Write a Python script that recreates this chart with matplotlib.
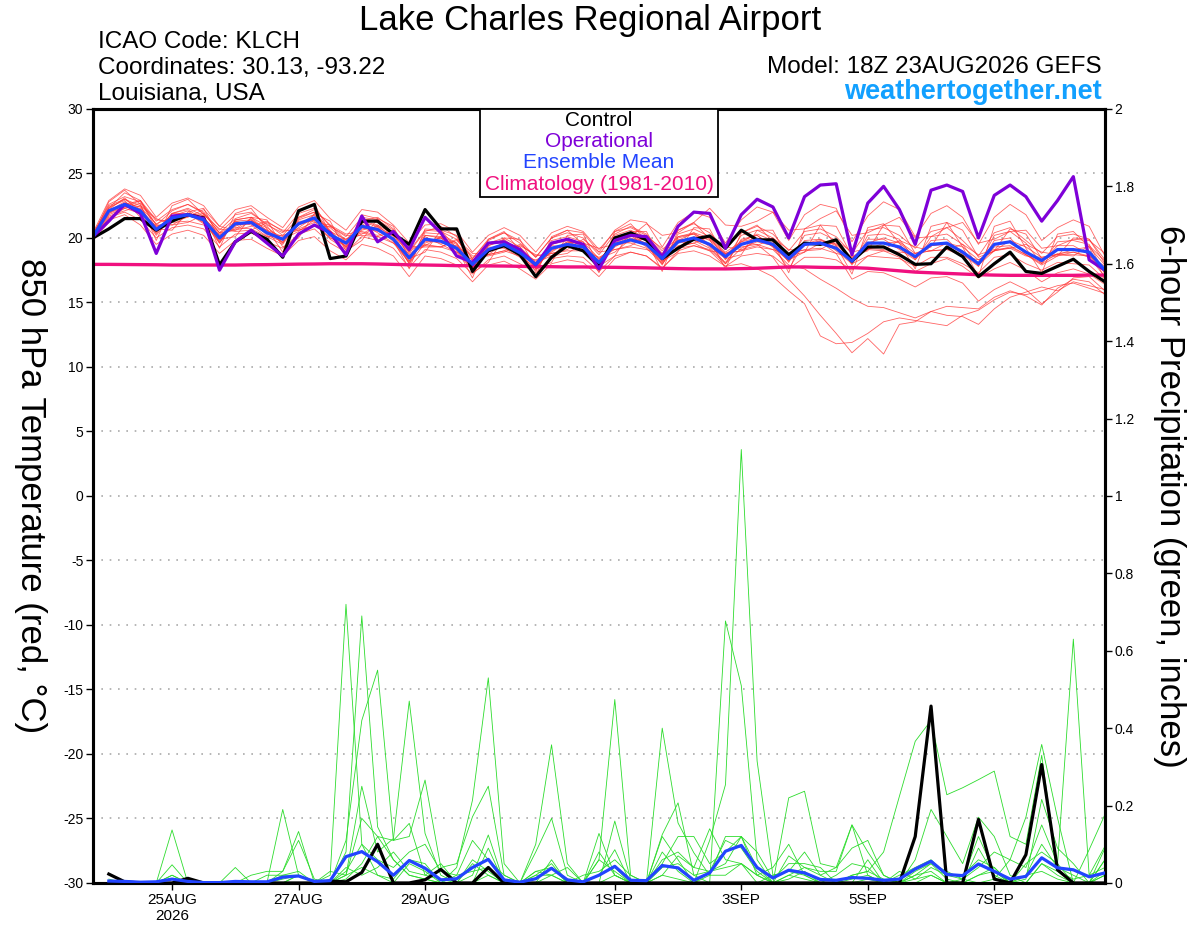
import matplotlib
matplotlib.use('Agg')
import matplotlib.pyplot as plt
from matplotlib.patches import Rectangle
import numpy as np
import pandas as pd

plt.rcParams['font.family'] = ['Liberation Sans', 'DejaVu Sans']

# 6-hourly GEFS steps from 18Z 23AUG2026 (65 steps, 16 days)
times = pd.date_range('2026-08-23 18:00', periods=65, freq='6h')

# 850 hPa temperature (C)
control_t = [20.0, 20.7, 21.5, 21.5, 20.6, 21.3, 21.8, 21.55,
             17.9, 19.7, 20.5, 19.9, 18.5, 22.1, 22.6, 18.4,
             18.6, 21.3, 21.3, 20.3, 19.5, 22.2, 20.7, 20.7,
             17.4, 19.0, 19.4, 18.7, 17.0, 18.5, 19.4, 19.0,
             17.8, 20.0, 20.4, 19.85, 18.4, 19.2, 19.9, 20.15,
             19.2, 20.6, 19.85, 19.85, 18.7, 19.6, 19.5, 19.85,
             18.2, 19.3, 19.3, 18.7, 17.95, 18.0, 19.3, 18.55,
             17.0, 18.0, 18.9, 17.4, 17.25, 17.8, 18.35, 17.4,
             16.6]
oper_t = [20.1, 21.3, 22.6, 21.9, 18.8, 21.7, 21.8, 21.5,
          17.5, 19.7, 20.6, 19.6, 18.6, 20.3, 21.0, 20.4,
          18.7, 21.7, 19.7, 20.5, 19.1, 21.6, 20.4, 18.6,
          18.1, 19.6, 19.7, 19.1, 17.9, 19.6, 19.9, 19.5,
          17.6, 19.8, 20.2, 20.1, 18.55, 20.9, 22.0, 21.9,
          19.2, 21.8, 23.0, 22.4, 20.0, 23.2, 24.1, 24.2,
          18.7, 22.7, 24.0, 22.2, 19.5, 23.7, 24.1, 23.6,
          20.0, 23.3, 24.1, 23.2, 21.3, 22.9, 24.75, 18.3,
          17.5]
mean_t = [20.1, 22.1, 22.6, 22.1, 20.65, 21.55, 21.8, 21.4,
          20.0, 21.1, 21.2, 20.4, 19.9, 21.1, 21.55, 20.25,
          19.6, 20.9, 20.65, 19.9, 18.45, 19.9, 19.75, 19.2,
          17.95, 19.1, 19.5, 18.85, 17.95, 19.2, 19.5, 19.3,
          18.1, 19.5, 19.85, 19.5, 18.4, 19.7, 20.0, 19.5,
          18.55, 19.5, 19.85, 19.5, 18.4, 19.5, 19.6, 19.2,
          18.2, 19.6, 19.6, 19.3, 18.55, 19.5, 19.6, 18.9,
          18.0, 19.5, 19.7, 18.9, 18.25, 19.1, 19.1, 18.9,
          17.5]
clim_t = [17.95, 17.95, 17.94, 17.93, 17.92, 17.9, 17.9, 17.9,
          17.9, 17.9, 17.92, 17.93, 17.95, 17.97, 17.98, 18.0,
          18.0, 18.0, 17.98, 17.95, 17.92, 17.9, 17.88, 17.85,
          17.85, 17.83, 17.82, 17.8, 17.78, 17.77, 17.75, 17.75,
          17.73, 17.72, 17.7, 17.68, 17.65, 17.62, 17.6, 17.6,
          17.6, 17.62, 17.65, 17.7, 17.75, 17.75, 17.72, 17.7,
          17.7, 17.65, 17.55, 17.45, 17.35, 17.3, 17.25, 17.2,
          17.15, 17.12, 17.1, 17.1, 17.1, 17.1, 17.1, 17.12,
          17.12]

member_t = [
    [20.3, 22.6, 23.2, 22.8, 21.3, 22.2, 22.6, 22.0, 20.6, 21.8, 22.0, 21.0, 20.4, 21.9, 22.3, 20.9,
     20.1, 21.6, 21.4, 20.6, 19.0, 20.6, 20.5, 19.9, 18.4, 19.9, 20.4, 19.6, 18.5, 20.0, 20.4, 20.0,
     18.7, 20.3, 20.9, 20.3, 19.0, 20.6, 21.1, 20.4, 19.2, 20.4, 20.9, 20.3, 19.0, 20.5, 20.7, 20.1,
     18.8, 20.6, 20.8, 20.2, 19.2, 20.5, 20.8, 19.8, 18.6, 20.4, 20.8, 19.8, 18.8, 20.1, 20.3, 19.9, 18.3],
    [19.9, 21.6, 22.0, 21.4, 20.0, 20.8, 21.0, 20.7, 19.3, 20.3, 20.4, 19.7, 19.2, 20.3, 20.7, 19.6,
     18.9, 20.1, 19.8, 19.2, 17.7, 19.1, 18.9, 18.4, 17.2, 18.3, 18.6, 18.0, 17.3, 18.4, 18.6, 18.5,
     17.4, 18.6, 18.9, 18.6, 17.7, 18.8, 19.0, 18.6, 17.8, 18.6, 18.8, 18.6, 17.6, 18.5, 18.5, 18.3,
     17.5, 18.6, 18.5, 18.4, 17.8, 18.5, 18.5, 18.0, 17.3, 18.5, 18.7, 18.0, 17.5, 18.1, 18.0, 17.9, 16.8],
    [20.0, 22.3, 23.0, 22.5, 20.3, 21.9, 22.3, 21.7, 19.6, 21.4, 21.6, 20.9, 19.6, 21.6, 22.0, 20.6,
     19.3, 21.5, 21.2, 20.3, 18.2, 20.4, 20.3, 19.6, 17.6, 19.6, 20.0, 19.3, 17.6, 19.8, 20.1, 19.7,
     17.8, 20.2, 20.6, 20.0, 18.1, 20.3, 20.7, 20.1, 18.3, 20.2, 20.6, 20.0, 18.1, 20.2, 20.4, 19.8,
     17.9, 20.2, 20.3, 19.9, 18.3, 20.1, 20.3, 19.5, 17.8, 20.2, 20.5, 19.6, 18.0, 19.7, 19.8, 19.5, 17.2],
    [20.2, 21.9, 22.4, 22.9, 21.4, 21.3, 21.6, 22.2, 20.9, 20.6, 20.9, 21.3, 20.5, 20.7, 21.2, 21.0,
     20.3, 20.5, 20.2, 20.6, 19.3, 19.4, 19.3, 19.9, 18.8, 18.7, 19.0, 19.5, 18.6, 18.8, 19.1, 19.9,
     18.9, 19.1, 19.4, 20.1, 19.2, 19.3, 19.6, 20.1, 19.3, 19.1, 19.4, 20.0, 19.1, 19.0, 19.1, 19.8,
     18.9, 19.2, 19.1, 19.8, 19.3, 19.0, 19.1, 19.5, 18.7, 19.1, 19.2, 19.5, 18.9, 18.7, 18.6, 19.4, 18.2],
    [20.1, 22.8, 23.7, 22.6, 19.8, 22.5, 23.0, 21.8, 19.2, 21.9, 22.3, 20.7, 18.9, 22.0, 22.6, 20.4,
     18.7, 21.8, 21.5, 19.8, 17.6, 20.7, 20.6, 19.2, 16.9, 19.9, 20.5, 19.0, 17.0, 20.1, 20.6, 19.5,
     17.3, 20.5, 21.1, 19.8, 17.4, 20.6, 21.2, 19.9, 17.6, 20.4, 21.0, 19.7, 17.3, 20.7, 21.0, 19.4,
     17.2, 20.8, 21.1, 19.6, 17.6, 20.9, 21.2, 19.3, 17.0, 20.9, 21.3, 19.2, 17.3, 20.3, 20.5, 19.3, 16.8],
    [20.0, 21.8, 22.3, 21.9, 20.9, 21.2, 21.3, 21.0, 20.3, 20.8, 20.7, 20.1, 20.2, 20.6, 21.0, 20.0,
     19.9, 20.4, 20.1, 19.6, 18.8, 19.5, 19.3, 18.9, 18.3, 18.7, 19.0, 18.6, 18.3, 18.8, 19.0, 19.0,
     18.5, 19.1, 19.3, 19.1, 18.7, 19.2, 19.4, 19.0, 18.8, 19.0, 19.3, 19.1, 18.7, 19.1, 19.2, 18.8,
     18.5, 19.1, 19.0, 18.9, 18.8, 19.0, 19.1, 18.6, 18.3, 19.0, 19.2, 18.6, 18.5, 18.7, 18.7, 18.6, 17.8],
    [20.2, 22.4, 22.9, 21.6, 20.4, 21.9, 21.9, 21.1, 19.8, 21.3, 21.4, 20.2, 19.7, 21.4, 21.8, 20.0,
     19.4, 21.2, 20.9, 19.7, 18.2, 20.2, 20.0, 19.0, 17.7, 19.4, 19.8, 18.6, 17.7, 19.5, 19.8, 19.1,
     17.9, 19.8, 20.2, 19.3, 18.2, 20.0, 20.3, 19.3, 18.4, 19.8, 20.2, 19.3, 18.2, 19.8, 19.9, 19.0,
     18.0, 19.9, 19.9, 19.1, 18.3, 19.8, 19.9, 18.7, 17.8, 19.8, 20.0, 18.7, 18.1, 19.4, 19.4, 18.7, 17.3],
    [19.9, 21.5, 22.3, 22.7, 21.0, 21.0, 21.7, 21.9, 20.4, 20.6, 21.3, 20.8, 19.9, 20.5, 21.4, 20.8,
     19.7, 20.3, 21.0, 20.3, 18.7, 19.4, 20.1, 19.6, 18.0, 18.7, 19.6, 19.3, 18.1, 18.6, 19.6, 19.7,
     18.4, 18.9, 19.9, 19.9, 18.6, 19.2, 20.1, 19.9, 18.8, 19.0, 19.9, 19.9, 18.6, 18.9, 19.6, 19.6,
     18.5, 19.1, 19.6, 19.7, 18.8, 19.0, 19.6, 19.3, 18.3, 19.0, 19.8, 19.3, 18.5, 18.7, 19.1, 19.3, 17.9],
    [20.1, 22.0, 22.4, 22.3, 20.8, 21.4, 21.9, 21.6, 20.2, 20.9, 21.4, 20.6, 19.8, 21.0, 21.8, 20.5,
     19.3, 20.6, 20.9, 20.1, 18.0, 19.6, 20.0, 19.5, 17.6, 18.9, 19.7, 19.1, 17.7, 19.0, 19.7, 19.5,
     17.9, 19.3, 20.0, 19.6, 18.0, 19.4, 19.6, 19.0, 17.8, 18.0, 17.6, 17.0, 15.9, 14.9, 12.4, 11.8,
     11.9, 12.6, 13.5, 13.8, 13.6, 13.4, 13.2, 14.0, 14.4, 15.2, 15.8, 15.6, 15.9, 16.3, 16.5, 16.1, 15.7],
    [19.9, 22.2, 23.1, 22.0, 20.2, 21.7, 22.1, 21.2, 19.6, 21.3, 21.0, 20.1, 19.5, 21.3, 21.3, 19.9,
     19.1, 21.1, 20.4, 19.6, 18.1, 20.1, 19.5, 18.9, 17.5, 19.3, 19.2, 18.5, 17.5, 19.4, 19.3, 19.0,
     17.7, 19.7, 19.6, 19.2, 18.0, 19.9, 19.8, 19.2, 18.1, 19.6, 19.5, 18.5, 16.8, 15.5, 14.0, 12.6,
     11.1, 12.2, 11.0, 13.3, 13.5, 14.3, 14.0, 13.9, 13.3, 14.5, 15.4, 15.8, 16.2, 15.9, 16.6, 16.3, 16.0],
    [20.0, 21.9, 22.7, 22.4, 21.1, 21.6, 21.7, 21.5, 20.4, 21.0, 21.1, 20.6, 20.1, 21.0, 21.4, 20.5,
     19.9, 20.8, 20.5, 20.2, 18.9, 19.8, 19.6, 19.4, 18.3, 19.0, 19.3, 19.0, 18.2, 19.1, 19.4, 19.4,
     18.4, 19.4, 19.7, 19.6, 18.7, 19.6, 19.8, 19.5, 18.8, 19.3, 19.5, 19.1, 17.9, 17.6, 16.8, 16.1,
     15.3, 14.7, 14.6, 14.2, 13.8, 14.3, 14.7, 14.6, 14.5, 15.4, 15.9, 15.5, 14.8, 16.1, 16.8, 16.6, 15.6],
    [20.3, 22.5, 23.0, 22.2, 20.5, 21.9, 22.2, 21.4, 19.7, 21.4, 21.6, 20.5, 19.6, 21.5, 22.0, 20.4,
     19.2, 21.3, 21.0, 19.9, 18.0, 20.2, 20.1, 19.3, 17.4, 19.4, 19.9, 18.9, 17.4, 19.5, 19.9, 19.3,
     17.5, 19.8, 20.3, 19.5, 17.9, 20.1, 20.4, 19.5, 18.0, 19.9, 20.2, 19.3, 17.6, 19.6, 19.7, 18.8,
     16.8, 17.4, 17.3, 16.8, 16.2, 16.9, 17.0, 16.5, 15.1, 16.0, 16.6, 16.0, 14.9, 15.8, 16.9, 17.0, 15.9],
    [20.2, 22.3, 23.5, 22.9, 21.0, 22.1, 22.6, 21.9, 20.4, 21.5, 21.9, 21.1, 20.2, 21.6, 22.2, 21.0,
     19.8, 21.3, 21.6, 20.7, 18.9, 20.5, 20.9, 20.1, 18.4, 19.8, 20.4, 19.8, 18.5, 20.0, 20.6, 20.4,
     18.9, 20.6, 21.4, 21.2, 19.3, 21.2, 22.0, 21.6, 19.6, 21.4, 22.4, 22.0, 19.8, 21.8, 22.6, 22.3,
     19.7, 21.7, 22.8, 22.2, 20.1, 21.9, 22.5, 21.6, 19.5, 21.6, 22.6, 21.8, 19.8, 20.8, 21.4, 20.9, 18.6],
    [20.0, 21.7, 22.1, 22.5, 21.5, 21.0, 21.2, 21.8, 20.7, 20.5, 20.6, 21.2, 20.6, 20.6, 20.9, 20.9,
     20.2, 20.2, 20.1, 20.5, 19.2, 19.3, 19.3, 19.8, 18.6, 18.6, 18.9, 19.4, 18.7, 18.6, 18.8, 19.6,
     19.2, 19.5, 20.1, 21.1, 20.2, 20.4, 21.2, 22.3, 21.0, 20.9, 21.3, 22.0, 20.6, 20.7, 21.5, 22.1,
     20.2, 20.4, 21.0, 21.6, 20.0, 20.1, 20.8, 21.2, 19.6, 19.9, 20.5, 20.6, 19.2, 19.4, 19.9, 19.8, 18.8],
    [20.0, 21.4, 21.8, 21.0, 19.5, 20.3, 20.6, 20.2, 18.8, 19.8, 19.9, 19.2, 18.6, 19.8, 20.1, 19.0,
     18.3, 19.5, 19.2, 18.6, 17.0, 18.6, 18.4, 17.9, 16.6, 17.9, 18.2, 17.6, 16.8, 18.0, 18.3, 18.1,
     17.0, 18.4, 18.9, 18.6, 17.6, 19.0, 19.4, 19.1, 18.0, 19.2, 19.7, 19.4, 18.2, 19.4, 19.8, 19.5,
     18.4, 19.6, 20.0, 19.6, 18.6, 19.4, 19.6, 19.0, 17.9, 19.0, 19.3, 18.7, 17.9, 18.6, 18.9, 18.5, 17.0],
    [20.4, 22.9, 23.8, 23.3, 21.6, 22.7, 23.1, 22.5, 20.9, 22.2, 22.5, 21.6, 20.8, 22.4, 22.9, 21.5,
     20.6, 22.2, 22.0, 21.0, 19.6, 21.0, 21.1, 20.5, 18.9, 20.2, 20.8, 20.2, 18.9, 20.4, 20.9, 20.5,
     19.1, 20.5, 20.8, 20.2, 18.8, 20.1, 20.3, 19.8, 18.7, 19.7, 20.0, 19.6, 18.5, 19.5, 19.7, 19.3,
     18.2, 19.5, 19.6, 19.2, 18.4, 19.4, 19.5, 18.8, 17.9, 19.3, 19.4, 18.7, 18.0, 18.8, 18.9, 18.6, 17.4],
    [19.8, 21.2, 22.6, 22.9, 20.7, 20.6, 22.0, 22.3, 19.9, 20.1, 21.6, 21.4, 19.3, 20.0, 21.9, 21.3,
     19.0, 19.8, 21.5, 20.9, 18.4, 18.9, 20.6, 20.2, 17.3, 18.1, 20.0, 19.9, 17.6, 18.1, 20.2, 20.3,
     17.8, 18.6, 20.5, 20.5, 18.2, 18.9, 20.8, 20.7, 18.4, 18.7, 20.6, 20.6, 18.3, 18.9, 21.0, 20.9,
     18.6, 19.0, 21.0, 20.9, 18.8, 19.3, 21.2, 20.6, 18.5, 19.0, 20.7, 20.3, 18.4, 18.6, 20.0, 19.9, 18.0],
    [20.1, 22.1, 22.8, 22.0, 20.9, 21.3, 21.9, 21.2, 20.2, 20.7, 21.5, 20.3, 19.9, 20.8, 21.6, 20.2,
     19.5, 20.7, 20.8, 19.8, 18.6, 19.7, 20.0, 19.1, 17.9, 18.9, 19.6, 18.8, 17.9, 18.9, 19.7, 19.2,
     18.3, 19.6, 20.2, 19.8, 18.7, 19.8, 20.4, 20.0, 18.9, 19.7, 20.3, 19.8, 18.8, 19.5, 19.9, 19.4,
     18.0, 18.6, 19.0, 18.5, 17.4, 18.0, 18.4, 17.8, 16.9, 17.6, 18.1, 17.5, 16.6, 17.3, 17.6, 17.2, 16.4],
]

# 6-hour precipitation (inches), steps 1..64
control_p = [0.023, 0.003, 0, 0, 0, 0.012, 0,
             0, 0, 0, 0, 0, 0, 0, 0.005,
             0.003, 0.027, 0.10, 0, 0, 0.008, 0.035, 0,
             0, 0.04, 0, 0, 0, 0, 0, 0,
             0, 0, 0, 0, 0, 0, 0, 0,
             0, 0, 0, 0, 0, 0, 0, 0,
             0, 0, 0, 0, 0.12, 0.457, 0, 0,
             0.164, 0.01, 0, 0.073, 0.306, 0.034, 0, 0,
             0]
mean_p = [0.005, 0.004, 0.002, 0.003, 0.01, 0.004, 0.001,
          0.001, 0.004, 0.003, 0.003, 0.015, 0.018, 0.004, 0.006,
          0.068, 0.081, 0.055, 0.02, 0.058, 0.038, 0.008, 0.011,
          0.04, 0.061, 0.008, 0.002, 0.011, 0.038, 0.008, 0.003,
          0.02, 0.043, 0.007, 0.006, 0.045, 0.039, 0.007, 0.026,
          0.082, 0.097, 0.04, 0.013, 0.033, 0.026, 0.009, 0.007,
          0.014, 0.012, 0.007, 0.01, 0.036, 0.056, 0.022, 0.019,
          0.049, 0.03, 0.01, 0.017, 0.065, 0.039, 0.034, 0.016,
          0.026]
member_p = [
    [0, 0, 0, 0, 0.137, 0, 0, 0, 0, 0, 0, 0, 0.02, 0, 0.02,
     0.72, 0.10, 0.02, 0, 0.05, 0.03, 0, 0, 0, 0.09, 0, 0, 0, 0.06, 0, 0,
     0.06, 0.474, 0.02, 0, 0.08, 0.03, 0, 0.11, 0.254, 1.12, 0.315, 0.02, 0.03, 0.02, 0, 0,
     0, 0.06, 0, 0.03, 0.01, 0.02, 0, 0, 0.02, 0.03, 0, 0.05, 0.08, 0.05, 0.63, 0.02, 0.095],
    [0, 0, 0, 0, 0.047, 0, 0, 0, 0.04, 0, 0, 0.19, 0.02, 0, 0,
     0.08, 0.69, 0.145, 0.06, 0.02, 0.01, 0, 0.04, 0.214, 0.53, 0.05, 0, 0.02, 0.02, 0, 0,
     0.02, 0.086, 0, 0, 0.125, 0.207, 0.02, 0, 0.677, 0.51, 0.06, 0, 0.02, 0.01, 0, 0,
     0, 0.01, 0, 0, 0.02, 0.05, 0.01, 0, 0.09, 0.02, 0, 0.01, 0.216, 0.09, 0.05, 0, 0.03],
    [0, 0, 0, 0, 0.02, 0, 0, 0, 0, 0.02, 0.03, 0.03, 0.133, 0, 0,
     0.11, 0.42, 0.55, 0.11, 0.154, 0.02, 0.05, 0, 0.02, 0.124, 0, 0, 0.10, 0.357, 0.05, 0,
     0, 0.16, 0.01, 0, 0.02, 0.01, 0, 0.02, 0.12, 0.12, 0.02, 0, 0.22, 0.237, 0.05, 0.04,
     0.15, 0.02, 0, 0, 0, 0.02, 0, 0.01, 0, 0.01, 0.06, 0.17, 0.358, 0.168, 0, 0.086, 0.177],
    [0, 0, 0, 0, 0, 0, 0, 0, 0, 0, 0, 0, 0, 0, 0.03,
     0.02, 0.25, 0.08, 0.115, 0.47, 0.128, 0.02, 0, 0, 0.02, 0, 0, 0, 0.02, 0.04, 0,
     0.128, 0.02, 0, 0, 0.40, 0.155, 0.078, 0.02, 0.02, 0.05, 0.02, 0.04, 0.10, 0.02, 0, 0,
     0.02, 0.03, 0.08, 0.224, 0.366, 0.42, 0.228, 0.246, 0.267, 0.289, 0.12, 0.1, 0.33, 0.03, 0, 0, 0.02],
    [0, 0, 0, 0, 0, 0, 0, 0, 0, 0, 0, 0.03, 0.11, 0.01, 0,
     0.02, 0.167, 0.12, 0.11, 0.12, 0.266, 0.04, 0.05, 0.171, 0.25, 0.02, 0, 0.08, 0.167, 0.02, 0,
     0, 0.02, 0, 0, 0.02, 0.07, 0.04, 0.14, 0.06, 0.05, 0, 0.02, 0.03, 0.08, 0.02, 0.04,
     0.09, 0.11, 0.02, 0, 0.06, 0.19, 0.12, 0.05, 0.17, 0.12, 0.02, 0, 0.05, 0.02, 0, 0, 0.06],
    [0.01, 0, 0, 0, 0, 0, 0, 0, 0, 0, 0, 0.02, 0.02, 0, 0,
     0.03, 0.10, 0.06, 0.04, 0.08, 0.10, 0.03, 0.02, 0.11, 0.06, 0.02, 0, 0.03, 0.04, 0, 0.02,
     0.03, 0.06, 0.02, 0, 0.04, 0.05, 0.02, 0.03, 0.05, 0.12, 0.04, 0, 0.02, 0.04, 0.02, 0,
     0.02, 0.03, 0.01, 0, 0.01, 0.04, 0.02, 0.02, 0.06, 0.04, 0, 0.02, 0.10, 0.04, 0.02, 0, 0.09],
    [0, 0, 0, 0, 0.02, 0, 0, 0, 0, 0, 0, 0.01, 0.02, 0, 0,
     0.01, 0.05, 0.12, 0.06, 0.02, 0.01, 0, 0.02, 0.03, 0.04, 0, 0, 0.02, 0.05, 0, 0,
     0.02, 0.04, 0, 0, 0.12, 0.06, 0, 0.03, 0.11, 0.09, 0.03, 0, 0.01, 0.03, 0, 0.02,
     0.05, 0.04, 0, 0.02, 0.04, 0.06, 0.02, 0.01, 0.12, 0.03, 0, 0, 0.05, 0.03, 0.01, 0.02, 0.04],
    [0, 0, 0, 0, 0, 0.01, 0, 0, 0, 0, 0.02, 0.02, 0.03, 0, 0,
     0.04, 0.02, 0.04, 0.08, 0.03, 0.02, 0.01, 0, 0.06, 0.03, 0, 0, 0.01, 0.04, 0.01, 0,
     0.06, 0.03, 0, 0, 0.05, 0.12, 0.12, 0.05, 0.08, 0.12, 0.08, 0.01, 0.05, 0.05, 0.04, 0,
     0.01, 0.02, 0, 0, 0.02, 0.03, 0, 0, 0.02, 0.04, 0, 0.02, 0.03, 0.01, 0, 0, 0.02],
    [0, 0, 0, 0, 0, 0, 0, 0, 0, 0, 0, 0, 0.02, 0, 0,
     0.02, 0.04, 0.02, 0.01, 0.06, 0.05, 0, 0, 0.05, 0.02, 0, 0, 0.03, 0.02, 0, 0,
     0.08, 0.02, 0, 0, 0.06, 0.08, 0.04, 0.03, 0.04, 0.05, 0.02, 0, 0.07, 0.04, 0.03, 0.03,
     0.15, 0.08, 0.02, 0, 0.03, 0.05, 0.03, 0.01, 0.04, 0.08, 0.06, 0.04, 0.15, 0.05, 0, 0, 0.06],
]

tick_dates = ['2026-08-25', '2026-08-27', '2026-08-29', '2026-09-01',
              '2026-09-03', '2026-09-05', '2026-09-07']
tick_labels = ['25AUG\n2026', '27AUG', '29AUG', '1SEP', '3SEP', '5SEP', '7SEP']
temp_ticks = np.arange(-30, 31, 5)
precip_ticks = np.arange(0, 2.01, 0.2)

fig = plt.figure(figsize=(12, 9.27), dpi=100)
ax = fig.add_axes([0.0775, 0.0475, 0.8433, 0.835])
ax2 = ax.twinx()

# horizontal dotted grid at temperature ticks
for tick in temp_ticks[1:-1]:
    ax.axhline(tick, color='#aaaaaa', linestyle=(0, (1, 4)), linewidth=1.2, zorder=0)

for m in member_t:
    ax.plot(times, m, color='#ff3030', linewidth=0.6, alpha=0.75, zorder=1)
ax.plot(times, clim_t, color='#f0107f', linewidth=2.4, zorder=2)
ax.plot(times, control_t, color='black', linewidth=2.3, zorder=3)
ax.plot(times, oper_t, color='#7e00d8', linewidth=2.3, zorder=4)
ax.plot(times, mean_t, color='#2244ff', linewidth=2.3, zorder=5)

for m in member_p:
    ax2.plot(times[1:], m, color='#2ddc2d', linewidth=0.6, zorder=1)
ax2.plot(times[1:], control_p, color='black', linewidth=2.3, zorder=3)
ax2.plot(times[1:], mean_p, color='#2244ff', linewidth=2.3, zorder=4)

ax.set_xlim(times[0], times[-1])
ax.set_ylim(-30, 30)
ax2.set_ylim(0, 2)

ax.set_yticks(temp_ticks)
ax.set_yticklabels([str(v) for v in temp_ticks], fontsize=10)
ax2.set_yticks(precip_ticks)
ax2.set_yticklabels(['0', '0.2', '0.4', '0.6', '0.8', '1', '1.2', '1.4', '1.6', '1.8', '2'],
                    fontsize=10)
ax.set_xticks([pd.Timestamp(d) for d in tick_dates])
ax.set_xticklabels(tick_labels, fontsize=11)

ax.tick_params(axis='both', direction='out', length=5, width=1, pad=2)
ax2.tick_params(axis='y', direction='out', length=5, width=1, pad=2)

for sp in ax.spines.values():
    sp.set_linewidth(2.2)
for sp in ax2.spines.values():
    sp.set_linewidth(2.2)

ax.set_ylabel('850 hPa Temperature (red, \u00b0C)', fontsize=25, rotation=-90, va='center')
ax.yaxis.set_label_coords(-0.062, 0.5)
ax2.set_ylabel('6-hour Precipitation (green, inches)', fontsize=25, rotation=-90, va='center')
ax2.yaxis.set_label_coords(1.064, 0.5)

# legend box drawn as text lines
ax2.add_patch(Rectangle((0.3824, 0.8863), 0.2352, 0.1137, transform=ax2.transAxes,
                        facecolor='white', edgecolor='black', linewidth=1.3, zorder=10))
legend_items = [('Control', 'black', 0.9845), ('Operational', '#7e00d8', 0.9574),
                ('Ensemble Mean', '#2244ff', 0.9302), ('Climatology (1981-2010)', '#f0107f', 0.9018)]
for txt, col, yy in legend_items:
    ax2.text(0.5, yy, txt, color=col, fontsize=15, ha='center', va='center',
             transform=ax2.transAxes, zorder=11)

fig.text(0.4917, 0.978, 'Lake Charles Regional Airport', fontsize=25, ha='center', va='center')
fig.text(0.0817, 0.948, 'ICAO Code: KLCH', fontsize=17.5, ha='left', va='baseline')
fig.text(0.0817, 0.920, 'Coordinates: 30.13, -93.22', fontsize=17.5, ha='left', va='baseline')
fig.text(0.0817, 0.892, 'Louisiana, USA', fontsize=17.5, ha='left', va='baseline')
fig.text(0.918, 0.921, 'Model: 18Z 23AUG2026 GEFS', fontsize=17.5, ha='right', va='baseline')
fig.text(0.918, 0.893, 'weathertogether.net', fontsize=19.5, fontweight='bold', color='#12a0ff',
         ha='right', va='baseline')

plt.savefig('out.png', dpi=100)
plt.close()
